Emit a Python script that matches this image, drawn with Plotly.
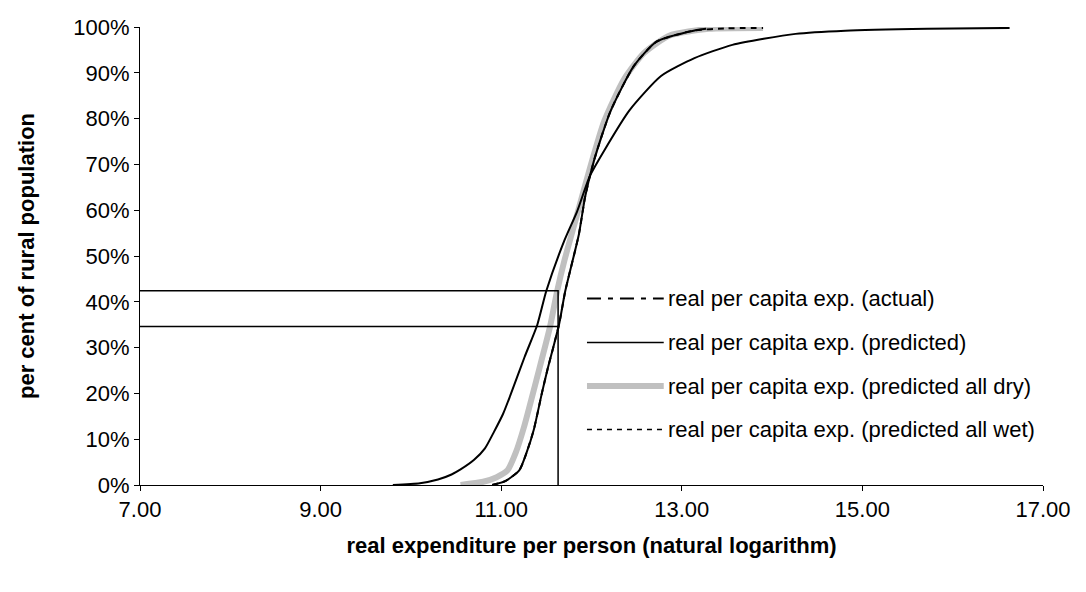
import plotly.graph_objects as go

# cumulative distributions (x = ln real exp., y = % of population)
actual_x = [9.80, 10.10, 10.30, 10.45, 10.55, 10.70, 10.82, 10.92, 11.02, 11.10, 11.26, 11.40,
            11.50, 11.70, 11.84, 11.98, 12.14, 12.42, 12.77, 13.14, 13.56, 14.26, 14.81,
            15.72, 16.63]
actual_y = [0.0, 0.4, 1.2, 2.3, 3.4, 5.5, 8.0, 11.6, 15.5, 19.5, 28.0, 35.0,
            42.4, 53.4, 59.7, 67.4, 73.0, 81.8, 89.3, 93.2, 96.1, 98.5, 99.2,
            99.6, 99.8]

pred_x = [10.90, 11.05, 11.20, 11.28, 11.36, 11.45, 11.51, 11.64, 11.71, 11.86, 11.93,
          12.03, 12.21, 12.47, 12.72, 13.13, 13.27]
pred_y = [0.0, 0.9, 3.2, 7.0, 12.0, 20.0, 25.0, 35.0, 42.4, 54.7, 63.0,
          71.0, 81.6, 91.5, 96.8, 99.2, 99.6]

dry_x = [10.55, 10.80, 10.95, 11.07, 11.16, 11.25, 11.40, 11.54, 11.62, 11.70, 11.84,
         11.98, 12.14, 12.36, 12.58, 12.86, 13.30, 13.90]
dry_y = [0.0, 0.7, 1.7, 3.2, 7.0, 12.5, 23.7, 34.5, 42.4, 49.0, 59.0,
         69.0, 79.4, 88.6, 94.3, 98.1, 99.6, 99.8]

wet_x = [10.90, 11.05, 11.20, 11.28, 11.36, 11.45, 11.51, 11.64, 11.71, 11.86, 11.93,
         12.03, 12.21, 12.47, 12.72, 13.13, 13.50, 13.90]
wet_y = [0.0, 0.9, 3.2, 7.0, 12.0, 20.0, 25.0, 35.0, 42.4, 54.7, 63.0,
         71.0, 81.6, 91.5, 96.8, 99.2, 99.7, 99.8]

# reference lines
cut_x = 11.63
cut_levels = [42.4, 34.6]

names = ["real per capita exp. (actual)",
         "real per capita exp. (predicted)",
         "real per capita exp. (predicted all dry)",
         "real per capita exp. (predicted all wet)"]

smooth = dict(shape="spline", smoothing=0.6)

fig = go.Figure()
fig.add_trace(go.Scatter(x=dry_x, y=dry_y, mode="lines", line=dict(color="#c0c0c0", width=6, **smooth)))
fig.add_trace(go.Scatter(x=actual_x, y=actual_y, mode="lines", line=dict(color="black", width=2, **smooth)))
fig.add_trace(go.Scatter(x=pred_x, y=pred_y, mode="lines", line=dict(color="black", width=2, **smooth)))
fig.add_trace(go.Scatter(x=wet_x, y=wet_y, mode="lines",
                         line=dict(color="black", width=2, dash="6px,5px", **smooth)))

# cut-off lines
fig.add_trace(go.Scatter(x=[7, cut_x, cut_x], y=[cut_levels[0], cut_levels[0], 0], mode="lines",
                         line=dict(color="black", width=1.5)))
fig.add_trace(go.Scatter(x=[7, cut_x], y=[cut_levels[1], cut_levels[1]], mode="lines",
                         line=dict(color="black", width=1.5)))

# hand-made legend (long line samples like the original)
leg_y = [40.7, 31.1, 21.6, 12.1]
leg_styles = [dict(color="black", width=2, dash="14px,7px,5px,7px"),
              dict(color="black", width=1.5),
              dict(color="#c0c0c0", width=6),
              dict(color="black", width=1.5, dash="5px,5px")]
for name, ly, st in zip(names, leg_y, leg_styles):
    fig.add_shape(type="line", xref="x", yref="y", x0=11.95, x1=12.80, y0=ly, y1=ly, line=st)
    fig.add_annotation(x=12.83, y=ly, xref="x", yref="y", text=name, showarrow=False,
                       xanchor="left", yanchor="middle",
                       font=dict(family="Arial, Liberation Sans", size=22, color="black"))

# page body keeps its default 8px margin, so the figure is sized to fit inside it
fig.update_layout(
    width=1070, height=576,
    paper_bgcolor="white", plot_bgcolor="white",
    showlegend=False,
    margin=dict(l=132, r=29, t=7, b=99),
    font=dict(family="Arial, Liberation Sans", color="black"),
)
fig.update_xaxes(range=[7, 17], tick0=7, dtick=2, tickformat=".2f", showgrid=False, zeroline=False,
                 showline=True, linecolor="black", linewidth=1, ticks="outside", ticklen=5,
                 tickcolor="black", tickfont=dict(size=22), ticklabeloverflow="allow",
                 title=dict(text="<b>real expenditure per person (natural logarithm)</b>",
                            font=dict(size=22), standoff=16))
fig.update_yaxes(range=[0, 100], dtick=10, ticksuffix="%", showgrid=False, zeroline=False,
                 showline=True, linecolor="black", linewidth=1, ticks="outside", ticklen=5,
                 tickcolor="black", tickfont=dict(size=22), ticklabeloverflow="allow",
                 title=dict(text="<b>per cent of rural population</b>", font=dict(size=22),
                            standoff=32))

fig.write_html("out.html")
